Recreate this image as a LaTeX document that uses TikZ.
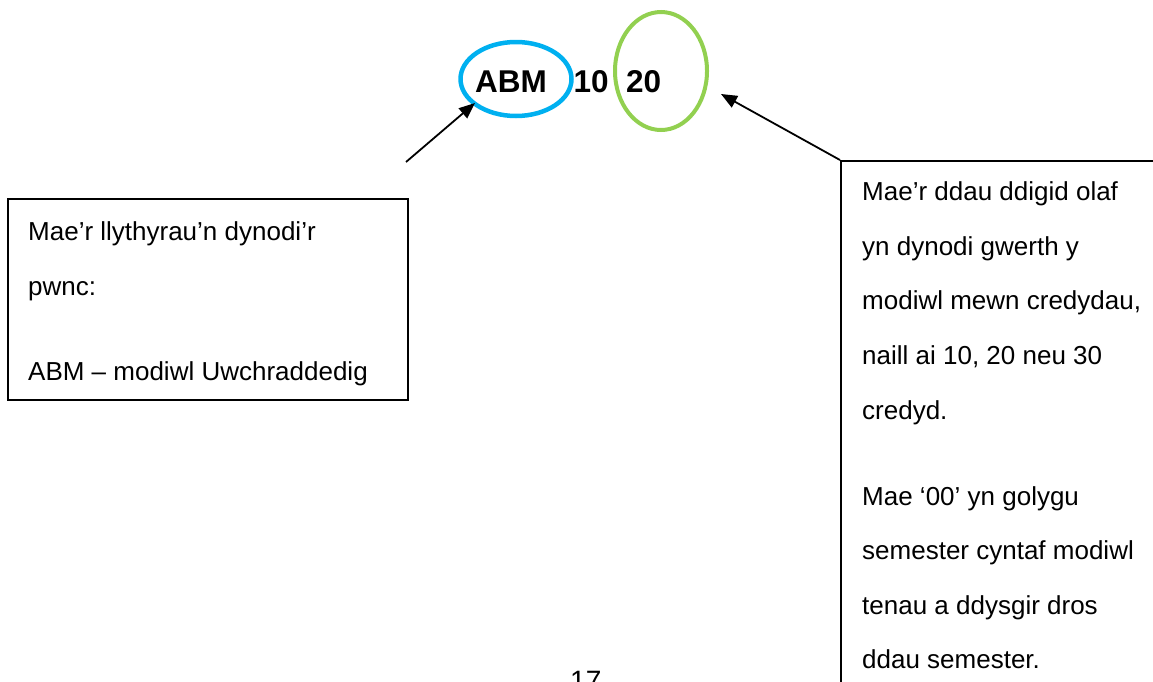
\documentclass[tikz,border=0pt]{standalone}
\usepackage{fontspec}
\setmainfont{Liberation Sans}
\usetikzlibrary{shapes.geometric,arrows.meta}
\definecolor{ringblue}{HTML}{00B0F0}
\definecolor{ringgreen}{HTML}{92D050}
\begin{document}
\begin{tikzpicture}[x=1pt,y=-1pt,
  boxline/.style={draw=black,line width=1.8pt,inner sep=0pt},
  txt/.style={anchor=base west,inner sep=0pt,font=\fontsize{26}{30}\selectfont},
  code/.style={anchor=base west,inner sep=0pt,font=\fontsize{31.5}{36}\selectfont\bfseries},
  ring/.style={ellipse,draw,inner sep=0pt,line width=4.5pt},
  pointer/.style={line width=1.8pt,-{Triangle[length=16pt,width=13pt]}}]
\useasboundingbox (0,0) rectangle (1153,681);
\clip (0,0) rectangle (1153,681);
% code with rings
\node[ring,draw=ringblue,minimum width=111pt,minimum height=74pt] (abmring) at (516,79) {};
\node[ring,draw=ringgreen,line width=4pt,minimum width=92pt,minimum height=118pt] (credring) at (661,71) {};
\node[code] (abm) at (475,92) {ABM};
\node[code] (ten) at (573.5,92) {10};
\node[code] (twenty) at (626,92) {20};
% left box
\node[boxline,minimum width=400pt,minimum height=201pt,anchor=north west] (lbox) at (7,198) {};
\node[txt] (l1) at (28,240) {Mae’r llythyrau’n dynodi’r};
\node[txt] (l2) at (28,295) {pwnc:};
\node[txt] (l3) at (28,380) {ABM – modiwl Uwchraddedig};
% right box
\node[boxline,minimum width=330pt,minimum height=560pt,anchor=north west] (rbox) at (840,160) {};
\node[txt] (r1) at (862,200.5) {Mae’r ddau ddigid olaf};
\node[txt] (r2) at (862,255) {yn dynodi gwerth y};
\node[txt] (r3) at (862,309.5) {modiwl mewn credydau,};
\node[txt] (r4) at (862,364) {naill ai 10, 20 neu 30};
\node[txt] (r5) at (862,419.5) {credyd.};
\node[txt] (r6) at (862,505) {Mae ‘00’ yn golygu};
\node[txt] (r7) at (862,559.5) {semester cyntaf modiwl};
\node[txt] (r8) at (862,614) {tenau a ddysgir dros};
\node[txt] (r9) at (862,668.5) {ddau semester.};
% page number (cut off at the page edge, as in the reference)
\node[anchor=base west,inner sep=0pt,font=\fontsize{28}{32}\selectfont] (pagenum) at (570,690) {17};
% pointers
\coordinate (ltail) at (406,162);
\coordinate (ltip) at (475,103);
\coordinate (rtip) at (721,94);
\draw[pointer] (ltail) -- (ltip);
\draw[pointer] (rbox.north west) -- (rtip);
\end{tikzpicture}
\end{document}
